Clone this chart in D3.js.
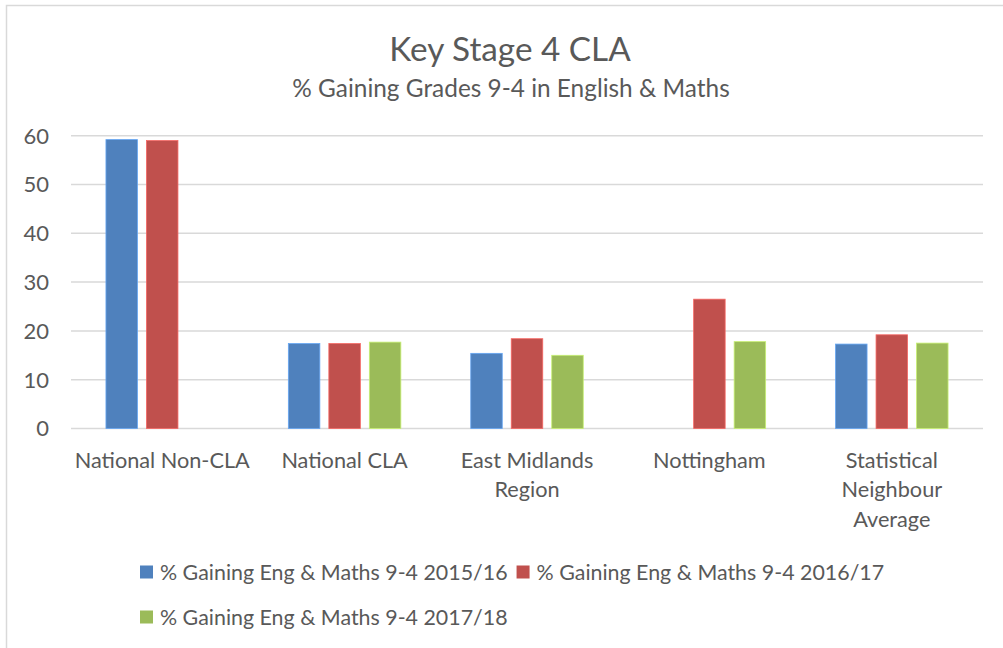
<!DOCTYPE html>
<html>
<head>
<meta charset="utf-8">
<script src="https://cdn.jsdelivr.net/npm/d3@7"></script>
<style>
  body { margin: 0; background: #fff; }
  svg text { font-family: Lato, "Open Sans", sans-serif; fill: #595959; }
</style>
</head>
<body>
<div id="chart"></div>
<script>
var categories = ["National Non-CLA", "National CLA", "East Midlands Region", "Nottingham", "Statistical Neighbour Average"];
var seriesNames = ["% Gaining Eng & Maths 9-4 2015/16", "% Gaining Eng & Maths 9-4 2016/17", "% Gaining Eng & Maths 9-4 2017/18"];
var values1516 = [59.2, 17.4, 15.4, null, 17.3];
var values1617 = [59.0, 17.4, 18.4, 26.5, 19.2];
var values1718 = [null, 17.7, 15.0, 17.8, 17.5];
var yTicks = [0, 10, 20, 30, 40, 50, 60];
var colors = ["#4F81BD", "#C0504D", "#9BBB59"];

var w = 1003, h = 648;
var series = [values1516, values1617, values1718];

var svg = d3.select("#chart").append("svg")
    .attr("width", w)
    .attr("height", h);

// chart area border
svg.append("rect")
    .attr("x", 6.5).attr("y", 5.5)
    .attr("width", w + 20).attr("height", h + 20)
    .attr("fill", "none")
    .attr("stroke", "#d9d9d9")
    .attr("stroke-width", 1.5);

svg.append("text")
    .attr("x", 510).attr("y", 61)
    .attr("text-anchor", "middle")
    .style("font-size", "33.3px")
    .text("Key Stage 4 CLA");

svg.append("text")
    .attr("x", 511).attr("y", 97)
    .attr("text-anchor", "middle")
    .style("font-size", "24.4px")
    .text("% Gaining Grades 9-4 in English & Maths");

var x0 = d3.scaleBand().domain(categories).range([71, 983]).padding(0);
var x1 = d3.scaleBand().domain(d3.range(3)).range([0, x0.bandwidth()])
    .paddingInner(0.222).paddingOuter(0.863);
var y = d3.scaleLinear().domain([0, 60]).range([428.5, 135.7]);

// gridlines
svg.append("g")
  .selectAll("line")
  .data(yTicks)
  .enter().append("line")
    .attr("x1", 71).attr("x2", 983)
    .attr("y1", function(d) { return y(d); })
    .attr("y2", function(d) { return y(d); })
    .attr("stroke", "#d9d9d9")
    .attr("stroke-width", 1.5);

// y labels
svg.append("g")
  .selectAll("text")
  .data(yTicks)
  .enter().append("text")
    .attr("x", 49)
    .attr("y", function(d) { return y(d); })
    .attr("dy", "0.36em")
    .attr("text-anchor", "end")
    .style("font-size", "22px")
    .text(function(d) { return d; });

// bars
series.forEach(function(vals, s) {
  svg.append("g")
    .selectAll("rect")
    .data(vals.map(function(v, i) { return { c: categories[i], v: v }; })
               .filter(function(d) { return d.v != null; }))
    .enter().append("rect")
      .attr("x", function(d) { return x0(d.c) + x1(s); })
      .attr("width", x1.bandwidth())
      .attr("y", function(d) { return y(d.v); })
      .attr("height", function(d) { return y(0) - y(d.v); })
      .attr("fill", colors[s])
      .attr("stroke", d3.color(colors[s]).brighter(0.7))
      .attr("stroke-width", 0.8);
});

// category labels, wrapped
var catG = svg.append("g");
categories.forEach(function(c) {
  var t = catG.append("text")
      .attr("text-anchor", "middle")
      .style("font-size", "21.7px");
  var words = c.split(" "), lines = [], cur = [];
  words.forEach(function(wd) {
    cur.push(wd);
    t.text(cur.join(" "));
    if (t.node().getComputedTextLength() > x0.bandwidth() - 4 && cur.length > 1) {
      cur.pop();
      lines.push(cur.join(" "));
      cur = [wd];
    }
  });
  lines.push(cur.join(" "));
  t.text(null);
  lines.forEach(function(l, i) {
    t.append("tspan")
      .attr("x", x0(c) + x0.bandwidth() / 2)
      .attr("y", 468 + i * 29.3)
      .text(l);
  });
});

// legend, flowed in rows
var legend = svg.append("g");
var lx = 140, ly = 572, rowH = 45, maxX = 960;
seriesNames.forEach(function(name, i) {
  var g = legend.append("g");
  g.append("rect")
    .attr("width", 13).attr("height", 13)
    .attr("y", -6.5)
    .attr("fill", colors[i]);
  var t = g.append("text")
    .attr("x", 20)
    .attr("dy", "0.36em")
    .style("font-size", "21.4px")
    .text(name);
  var wEntry = 20 + t.node().getComputedTextLength() + 9;
  if (lx + wEntry > maxX) { lx = 140; ly += rowH; }
  g.attr("transform", "translate(" + lx + "," + ly + ")");
  lx += wEntry;
});
</script>
</body>
</html>
